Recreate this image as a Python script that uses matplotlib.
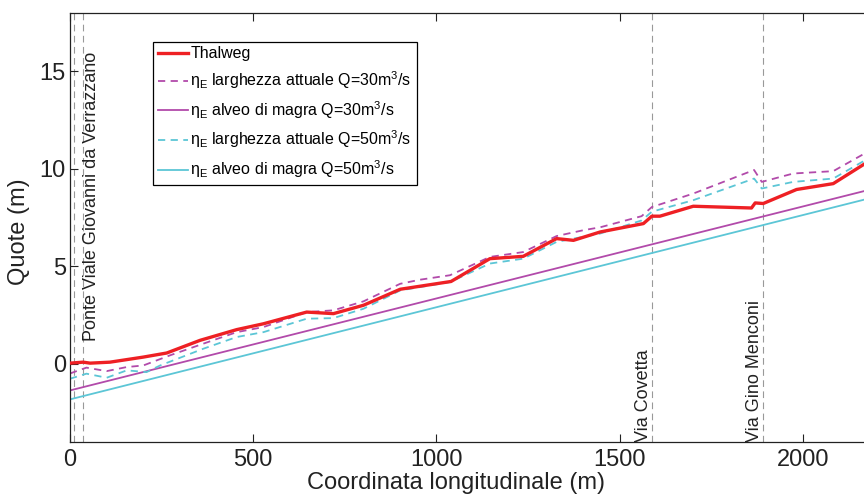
import matplotlib
matplotlib.use("Agg")
import matplotlib.pyplot as plt

plt.rcParams['font.family'] = ['Liberation Sans', 'DejaVu Sans']
plt.rcParams['mathtext.fontset'] = 'custom'
plt.rcParams['mathtext.rm'] = 'Liberation Sans'

# thalweg profile
x_thalweg = [0, 36, 55, 109, 200, 264, 355, 455, 528, 646, 719, 801, 901, 1040,
             1146, 1237, 1328, 1374, 1447, 1565, 1588, 1610, 1701, 1860, 1870,
             1892, 1983, 2083, 2170]
thalweg = [0.03, 0.08, 0.03, 0.08, 0.34, 0.55, 1.2, 1.75, 2.05, 2.65, 2.57, 3.0,
           3.82, 4.22, 5.39, 5.51, 6.42, 6.33, 6.76, 7.19, 7.57, 7.57, 8.08, 7.99,
           8.25, 8.22, 8.94, 9.24, 10.27]

# water level, current width, Q=30
x_att30 = [0, 45, 100, 155, 200, 273, 364, 455, 528, 646, 719, 801, 901, 955,
           1037, 1146, 1237, 1328, 1401, 1447, 1560, 1588, 1701, 1867, 1888,
           1974, 2083, 2170]
att30 = [-0.5, -0.2, -0.38, -0.17, -0.09, 0.43, 1.03, 1.62, 1.88, 2.65, 2.74,
         3.2, 4.1, 4.31, 4.54, 5.48, 5.73, 6.55, 6.85, 7.0, 7.57, 8.04, 8.73,
         9.94, 9.33, 9.76, 9.88, 10.8]

# water level, current width, Q=50
x_att50 = [0, 45, 100, 155, 209, 246, 364, 455, 528, 646, 719, 801, 901, 1037,
           1146, 1237, 1328, 1447, 1560, 1588, 1701, 1867, 1888, 1974, 2083, 2170]
att50 = [-0.77, -0.51, -0.72, -0.34, -0.43, -0.09, 0.77, 1.37, 1.62, 2.31, 2.34,
         2.82, 3.76, 4.19, 5.14, 5.39, 6.25, 6.68, 7.35, 7.8, 8.39, 9.5, 8.99,
         9.33, 9.5, 10.44]

# low-flow channel (straight profiles)
x_magra = [0, 2170]
magra30 = [-1.37, 8.87]
magra50 = [-1.83, 8.43]

# bridges
bridge_x = [11, 35, 1589, 1892]
bridge_names = ['Ponte Viale Giovanni da Verrazzano', 'Via Covetta', 'Via Gino Menconi']

red = '#EE2024'
magenta = '#B24AAA'
cyan = '#5CC6D6'

fig = plt.figure(figsize=(8.64, 4.96), dpi=100)
ax = fig.add_axes([0.081, 0.1095, 0.919, 0.8645])

for bx in bridge_x:
    ax.axvline(bx, color='#999999', lw=0.8, ls=(0, (6, 4)), zorder=1)

ax.plot(x_thalweg, thalweg, color=red, lw=2.4, label='Thalweg', zorder=5)
ax.plot(x_att30, att30, color=magenta, lw=1.3, ls=(0, (4, 3)),
        label=r'η$_\mathregular{E}$ larghezza attuale Q=30m$^\mathregular{3}$/s')
ax.plot(x_magra, magra30, color=magenta, lw=1.3,
        label=r'η$_\mathregular{E}$ alveo di magra Q=30m$^\mathregular{3}$/s')
ax.plot(x_att50, att50, color=cyan, lw=1.3, ls=(0, (4, 3)),
        label=r'η$_\mathregular{E}$ larghezza attuale Q=50m$^\mathregular{3}$/s')
ax.plot(x_magra, magra50, color=cyan, lw=1.3,
        label=r'η$_\mathregular{E}$ alveo di magra Q=50m$^\mathregular{3}$/s')

# bridge names
ax.text(36, 8.6, bridge_names[0], rotation=90, ha='left', va='center',
        fontsize=13, color='#222222')
ax.text(1589, -4, bridge_names[1], rotation=90, ha='right', va='bottom',
        fontsize=13, color='#222222')
ax.text(1892, -4, bridge_names[2], rotation=90, ha='right', va='bottom',
        fontsize=13, color='#222222')

ax.set_xlim(0, 2167)
ax.set_ylim(-4, 18)
ax.set_xticks([0, 500, 1000, 1500, 2000])
ax.set_yticks([0, 5, 10, 15])
ax.tick_params(direction='in', length=6, width=0.8, labelsize=17, colors='#222222',
               top=True, right=False)
ax.tick_params(axis='x', pad=5)
ax.tick_params(axis='y', pad=3)
ax.spines['right'].set_visible(False)
for s in ['left', 'bottom', 'top']:
    ax.spines[s].set_linewidth(0.9)
    ax.spines[s].set_color('#222222')

ax.set_xlabel('Coordinata longitudinale (m)', fontsize=17, color='#222222')
ax.set_ylabel('Quote (m)', fontsize=17, color='#222222')
ax.xaxis.set_label_coords(0.486, -0.07)
ax.yaxis.set_label_coords(-0.05, 0.49)

leg = ax.legend(loc='upper left', bbox_to_anchor=(0.1045, 0.933), borderaxespad=0,
                fontsize=11.5, handlelength=1.9, handletextpad=0.15,
                labelspacing=0.5, fancybox=False, framealpha=1,
                edgecolor='black', borderpad=0.3)
leg.get_frame().set_linewidth(0.9)

fig.savefig('out.png', dpi=100)
